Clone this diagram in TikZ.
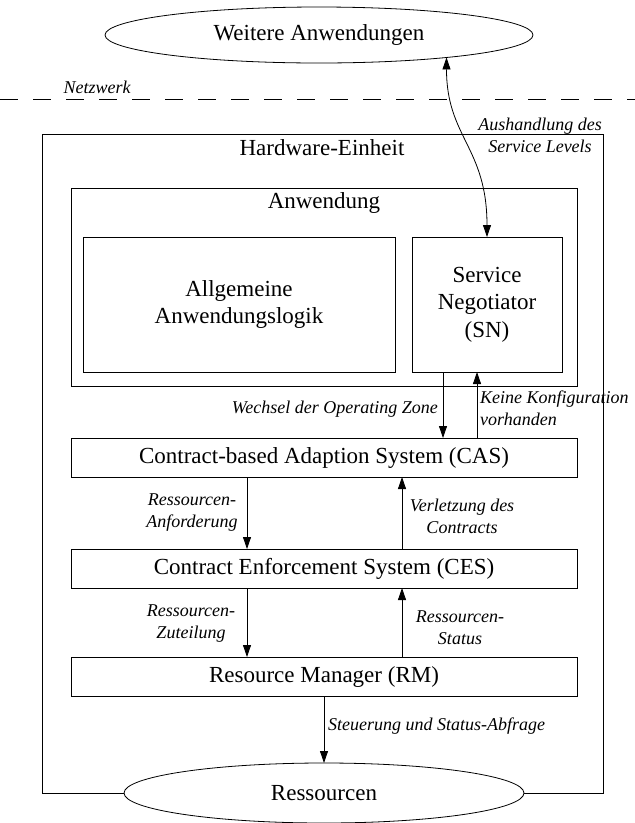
\documentclass[tikz,border=0pt]{standalone}
\usepackage{fontspec}
\setmainfont{Liberation Serif}
\usetikzlibrary{arrows.meta,shapes.geometric}
\newcommand\fbig{\fontsize{23pt}{27.6pt}\selectfont}
\newcommand\flbl{\fontsize{18pt}{22pt}\selectfont\itshape}
\begin{document}
\begin{tikzpicture}[x=1pt,y=-1pt,
  box/.style={draw, line width=0.8pt, inner sep=0pt, outer sep=0pt, font=\fbig, align=center, fill=white},
  oval/.style={draw, ellipse, line width=0.8pt, inner sep=0pt, outer sep=0pt, font=\fbig, fill=white},
  lbl/.style={font=\flbl, align=center, inner sep=0pt},
  ttl/.style={font=\fbig, inner sep=0pt},
  arr/.style={line width=0.8pt, -{Triangle[length=12pt,width=8pt]}},
  darr/.style={line width=0.8pt, {Triangle[length=12pt,width=8pt]}-{Triangle[length=12pt,width=8pt]}}]
\useasboundingbox (0,0) rectangle (635,823);
% outer hardware box
\node[box, minimum width=561pt, minimum height=659pt] (hw) at (322.5,463.5) {};
\node[ttl] (hwl) at (322,148) {Hardware-Einheit};
% application box
\node[box, minimum width=506pt, minimum height=198pt] (anw) at (324,287) {};
\node[ttl] (anwl) at (324,203) {Anwendung};
\node[box, minimum width=312pt, minimum height=135pt] (logic) at (239,304.5) {Allgemeine\\Anwendungslogik};
\node[box, minimum width=150pt, minimum height=135pt] (sn) at (487,304.5) {Service\\Negotiator\\(SN)};
% layers
\node[box, minimum width=506pt, minimum height=39pt] (cas) at (324,457.5) {Contract-based Adaption System (CAS)};
\node[box, minimum width=506pt, minimum height=39pt] (ces) at (324,568.5) {Contract Enforcement System (CES)};
\node[box, minimum width=506pt, minimum height=39pt] (rm) at (324,676.5) {Resource Manager (RM)};
% ellipses
\node[oval, minimum width=428pt, minimum height=56pt] (wa) at (319,35) {Weitere Anwendungen};
\node[oval, minimum width=400pt, minimum height=60pt] (res) at (324,793) {Ressourcen};
% network line
\coordinate (nl) at (0,99);
\coordinate (nr) at (635,99);
\draw[line width=0.8pt, dash pattern=on 18pt off 15pt] (nl) -- (nr);
\node[lbl] (netz) at (97,87) {Netzwerk};
% connectors
\draw[darr] (wa.-10.8) .. controls +(0,80) and +(0,-90) .. (sn.north);
\node[lbl] (aush) at (540,135) {Aushandlung des\\Service Levels};
\draw[arr] ([xshift=-44pt]sn.south) -- ([xshift=-44pt]sn.south |- cas.north);
\draw[arr] ([xshift=-10pt]sn.south |- cas.north) -- ([xshift=-10pt]sn.south);
\node[lbl, anchor=east] (wech) at (438,409) {Wechsel der Operating Zone};
\node[lbl, anchor=west, align=left] (keine) at (480,408.5) {Keine Konfiguration\\vorhanden};
\draw[arr] ([xshift=-77pt]cas.south) -- ([xshift=-77pt]ces.north);
\draw[arr] ([xshift=78pt]ces.north) -- ([xshift=78pt]cas.south);
\node[lbl] (anf) at (192,513) {Ressourcen-\\Anforderung};
\node[lbl] (verl) at (462,516) {Verletzung des\\Contracts};
\draw[arr] ([xshift=-77pt]ces.south) -- ([xshift=-77pt]rm.north);
\draw[arr] ([xshift=78pt]rm.north) -- ([xshift=78pt]ces.south);
\node[lbl] (zut) at (191,624) {Ressourcen-\\Zuteilung};
\node[lbl] (stat) at (460,627.5) {Ressourcen-\\Status};
\draw[arr] (rm.south) -- (res.north);
\node[lbl, anchor=west] (steu) at (328,726) {Steuerung und Status-Abfrage};
\end{tikzpicture}
\end{document}
